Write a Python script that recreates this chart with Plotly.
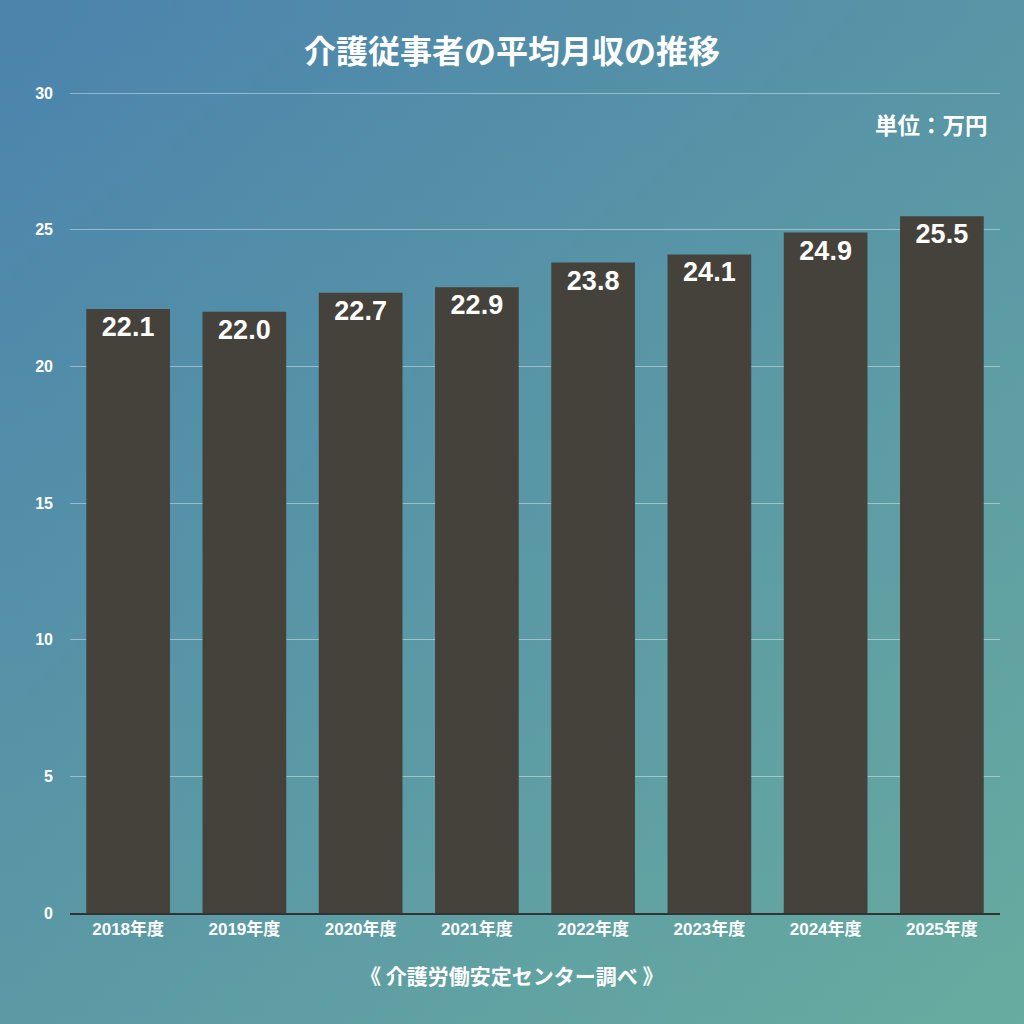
import base64
import struct
import zlib

import plotly.graph_objects as go

years = ["2018年度", "2019年度", "2020年度", "2021年度", "2022年度", "2023年度", "2024年度", "2025年度"]
salary = [22.1, 22.0, 22.7, 22.9, 23.8, 24.1, 24.9, 25.5]
y_ticks = [0, 5, 10, 15, 20, 25, 30]


def gradient_png(w=64, h=64):
    # diagonal blue -> teal background, top-left to bottom-right
    c0 = (76, 132, 173)
    c1 = (104, 172, 160)
    rows = b""
    for j in range(h):
        row = b"\x00"
        for i in range(w):
            t = (i / (w - 1)) * 0.45 + (j / (h - 1)) * 0.55
            row += bytes(int(c0[k] + (c1[k] - c0[k]) * t) for k in range(3))
        rows += row

    def chunk(tag, data):
        c = struct.pack(">I", len(data)) + tag + data
        return c + struct.pack(">I", zlib.crc32(tag + data) & 0xFFFFFFFF)

    png = b"\x89PNG\r\n\x1a\n"
    png += chunk(b"IHDR", struct.pack(">IIBBBBB", w, h, 8, 2, 0, 0, 0))
    png += chunk(b"IDAT", zlib.compress(rows, 9))
    png += chunk(b"IEND", b"")
    return "data:image/png;base64," + base64.b64encode(png).decode()


font_family = "Liberation Sans, Noto Sans CJK JP, sans-serif"
cjk_family = "Noto Sans CJK JP, sans-serif"

fig = go.Figure(
    go.Bar(
        x=years,
        y=salary,
        marker=dict(color="#45423c", line=dict(width=0)),
        text=[f"{v:.1f}" for v in salary],
        textposition="inside",
        insidetextanchor="end",
        textangle=0,
        constraintext="none",
        textfont=dict(color="white", size=27, family=font_family, weight=700),
    )
)

# plot area in pixels; y range a touch above 30 so the top gridline shows
y_top = 30.3
L, R, B = 70, 24, 111
ph = round(820 * y_top / 30)
T = 1024 - B - ph
pw = 1024 - L - R
y30 = 1 - (ph - 820) / ph  # paper y of the 30 line

fig.add_layout_image(
    source=gradient_png(),
    xref="paper",
    yref="paper",
    x=-L / pw,
    y=1 + T / ph,
    sizex=1024 / pw,
    sizey=1024 / ph,
    sizing="stretch",
    xanchor="left",
    yanchor="top",
    layer="below",
)

fig.update_xaxes(
    showgrid=False,
    showline=True,
    linecolor="#333333",
    linewidth=1.5,
    ticks="",
    tickfont=dict(color="white", size=17, family=font_family, weight=700),
)

fig.update_yaxes(
    range=[0, y_top],
    tickvals=y_ticks,
    showgrid=True,
    gridcolor="rgba(255, 255, 255, 0.4)",
    gridwidth=1,
    zeroline=False,
    showline=False,
    ticks="",
    ticklabelstandoff=16,
    tickfont=dict(color="white", size=16, family=font_family, weight=700),
)

fig.update_layout(
    width=1024,
    height=1024,
    margin=dict(l=L, r=R, t=T, b=B),
    bargap=0.28,
    showlegend=False,
    hovermode=False,
    plot_bgcolor="rgba(0, 0, 0, 0)",
    paper_bgcolor="#5a98a8",
    title=dict(
        text="介護従事者の平均月収の推移",
        x=0.5,
        xanchor="center",
        y=1 - 52 / 1024,
        yanchor="middle",
        font=dict(color="white", size=32, family=cjk_family, weight=700),
    ),
)

fig.add_annotation(
    text="単位：万円",
    xref="paper",
    yref="paper",
    x=1 - 10 / pw,
    y=y30 - 31 / ph,
    xanchor="right",
    yanchor="middle",
    showarrow=False,
    font=dict(color="white", size=22.5, family=cjk_family, weight=700),
)

fig.add_annotation(
    text="《 介護労働安定センター調べ 》",
    xref="paper",
    yref="paper",
    x=(512 - L) / pw,
    y=-(975 - 1024 + B) / ph,
    xanchor="center",
    yanchor="middle",
    showarrow=False,
    font=dict(color="white", size=21, family=cjk_family, weight=700),
)

# drop the default page margin so the 1024px figure fills the window
fig.write_html(
    "out.html",
    config={"displayModeBar": False},
    post_script="document.body.style.margin='0';document.body.style.overflow='hidden';",
)
